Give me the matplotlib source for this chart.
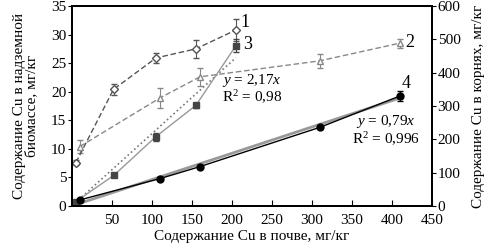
import matplotlib.pyplot as plt
import numpy as np

plt.rcParams['font.family'] = ['Liberation Serif', 'DejaVu Serif']
plt.rcParams['font.size'] = 10
plt.rcParams['mathtext.fontset'] = 'custom'
plt.rcParams['mathtext.rm'] = 'Liberation Serif'
plt.rcParams['mathtext.it'] = 'Liberation Serif:italic'

# кривая 1 - надземная биомасса (левая ось)
x1 = [5, 52, 105, 155, 205]
y1 = [7.6, 20.4, 25.9, 27.5, 30.8]
e1 = [0.5, 0.9, 0.8, 1.6, 2.0]
# кривая 2 - надземная биомасса (левая ось)
x2 = [10, 110, 160, 310, 410]
y2 = [10.4, 18.9, 22.6, 25.4, 28.5]
e2 = [1.2, 1.8, 1.6, 1.2, 0.8]
# кривая 3 - корни (правая ось)
x3 = [5, 53, 105, 155, 205]
y3 = [13, 93, 208, 302, 481]
e3 = [4, 6, 12, 8, 20]
# кривая 4 - корни (правая ось)
x4 = [10, 110, 160, 310, 410]
y4 = [18, 82, 118, 236, 330]
e4 = [3, 4, 5, 5, 15]
# линии тренда
k3, r3 = 2.17, 0.98
k4, r4 = 0.79, 0.996

fig = plt.figure(figsize=(4.96, 2.49), dpi=100)
ax = fig.add_axes([0.145, 0.173, 0.726, 0.803])
ax2 = ax.twinx()

ax.errorbar(x1, y1, yerr=e1, color='#555555', ls='--', lw=1, dashes=(4, 2),
            marker='D', ms=4, mfc='white', mec='#555555', capsize=2, elinewidth=0.8, zorder=3)
ax.errorbar(x2, y2, yerr=e2, color='#888888', ls='--', lw=1, dashes=(4, 2),
            marker='^', ms=5, mfc='white', mec='#888888', capsize=2, elinewidth=0.8, zorder=3)

xf3 = np.array([0, x3[-1]])
ax2.plot(xf3, k3 * xf3, color='#777777', ls=':', lw=1.2)
ax2.errorbar(x3, y3, yerr=e3, color='#999999', lw=1, marker='s', ms=5,
             mfc='#444444', mec='#444444', ecolor='#444444', capsize=2, elinewidth=0.8)
xf4 = np.array([0, x4[-1]])
ax2.plot(xf4, k4 * xf4, color='#999999', lw=2.0)
ax2.errorbar(x4, y4, yerr=e4, color='black', lw=1, marker='o', ms=5,
             mfc='black', mec='black', capsize=2, elinewidth=0.8)

ax.set_xlim(0, 450)
ax.set_ylim(0, 35)
ax2.set_ylim(0, 600)
ax.set_xticks(np.arange(0, 451, 50))
ax.set_xticklabels([''] + [str(v) for v in range(50, 451, 50)])
ax.set_yticks(np.arange(0, 36, 5))
ax2.set_yticks(np.arange(0, 601, 100))
ax.tick_params(axis='x', direction='in', length=4, labelsize=11, pad=6)
ax.tick_params(axis='y', direction='out', length=3, labelsize=11, pad=1)
ax2.tick_params(axis='y', direction='out', length=3, labelsize=11, pad=1)
for a in (ax, ax2):
    for s in a.spines.values():
        s.set_linewidth(1.4)

ax.set_xlabel('Содержание Cu в почве, мг/кг', fontsize=11, labelpad=2)
ax.set_ylabel('Содержание Cu в надземной\nбиомассе, мг/кг', fontsize=11, labelpad=9, linespacing=1.0)
ax2.set_ylabel('Содержание Cu в корнях, мг/кг', fontsize=11, labelpad=8)

ax.text(188, 22, '$y$ = %s$x$' % str(k3).replace('.', ','), fontsize=11, va='center')
ax.text(188, 19, 'R$^2$ = %s' % str(r3).replace('.', ','), fontsize=11, va='center')
ax.text(355, 14.8, '$y$ = %s$x$' % str(k4).replace('.', ','), fontsize=11, va='center')
ax.text(350, 11.6, 'R$^2$ = %s' % str(r4).replace('.', ','), fontsize=11, va='center')

ax.text(211, 31.4, '1', fontsize=13)
ax.text(214, 27.4, '3', fontsize=13)
ax.text(416, 27.8, '2', fontsize=13)
ax.text(412, 20.6, '4', fontsize=13)

fig.savefig('out.png', dpi=100)
